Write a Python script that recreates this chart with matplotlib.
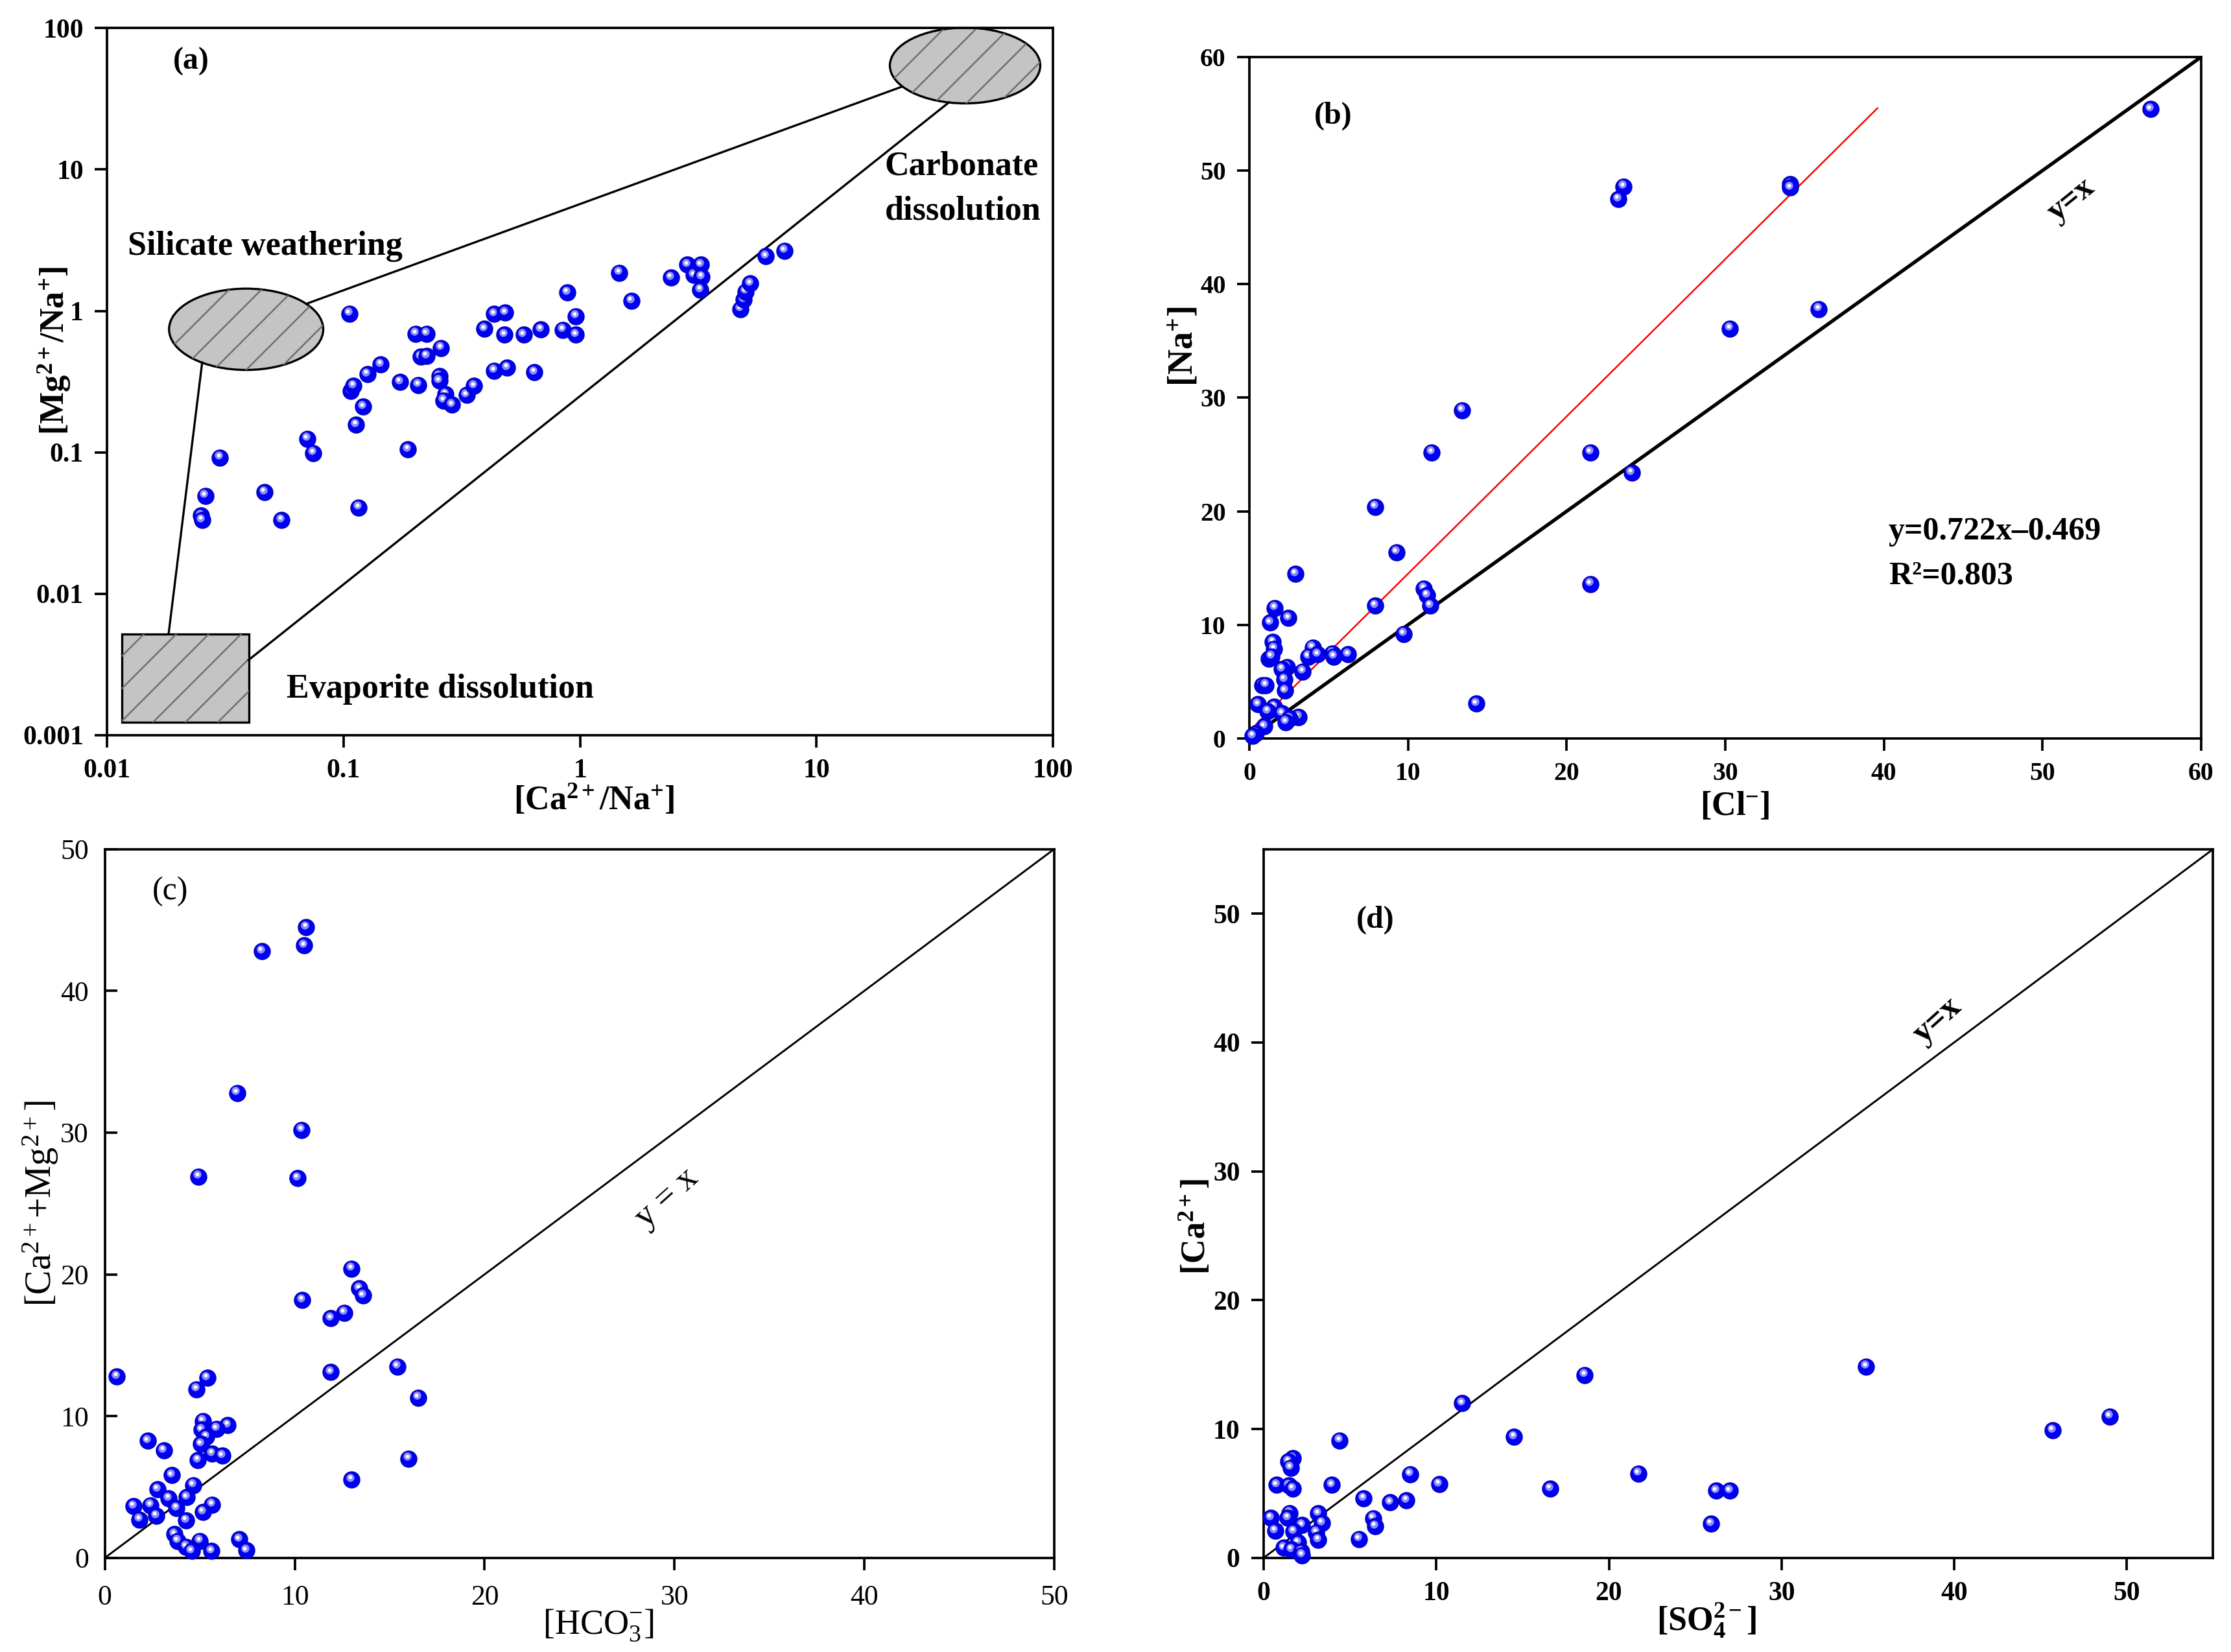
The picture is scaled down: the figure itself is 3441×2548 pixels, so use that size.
import numpy as np
import matplotlib
matplotlib.use("Agg")
import matplotlib.pyplot as plt
from matplotlib.patches import Ellipse, Rectangle
from matplotlib.transforms import offset_copy
from matplotlib.ticker import FixedLocator, FixedFormatter, NullLocator, MultipleLocator

plt.rcParams['font.family'] = ['Liberation Serif', 'DejaVu Serif']
plt.rcParams['mathtext.fontset'] = 'custom'
plt.rcParams['mathtext.rm'] = 'Liberation Serif'
plt.rcParams['mathtext.bf'] = 'Liberation Serif:bold'
plt.rcParams['mathtext.it'] = 'Liberation Serif:italic'
plt.rcParams['hatch.linewidth'] = 0.6

# ---------------- data ----------------
# (a) Ca/Na vs Mg/Na (log-log)
a_ca_na = [0.0260, 0.0250, 0.0252, 0.030, 0.0462, 0.0546, 0.0701, 0.0746, 0.1058, 0.107,
           0.110, 0.113, 0.116, 0.121, 0.126, 0.1436, 0.173, 0.187, 0.2018, 0.224,
           0.207, 0.212, 0.224, 0.258, 0.254, 0.254, 0.270, 0.265, 0.288, 0.331,
           0.357, 0.394, 0.433, 0.482, 0.479, 0.433, 0.492, 0.577, 0.641, 0.682,
           0.846, 0.883, 0.959, 0.959, 1.466, 1.65, 2.42, 2.84, 3.03, 3.24,
           3.27, 3.23, 4.78, 4.92, 5.00, 5.25, 6.10, 7.31]
a_mg_na = [0.0493, 0.0356, 0.0332, 0.0918, 0.0524, 0.0332, 0.125, 0.099, 0.957, 0.272,
           0.295, 0.157, 0.0408, 0.210, 0.358, 0.419, 0.315, 0.105, 0.690, 0.690,
           0.300, 0.476, 0.480, 0.547, 0.346, 0.320, 0.258, 0.233, 0.217, 0.254,
           0.294, 0.746, 0.950, 0.970, 0.678, 0.378, 0.397, 0.678, 0.368, 0.740,
           0.735, 1.35, 0.918, 0.678, 1.86, 1.18, 1.72, 2.12, 1.79, 2.12,
           1.74, 1.41, 1.03, 1.20, 1.37, 1.56, 2.43, 2.67]

# (b) Cl vs Na
b_cl = [56.8, 34.1, 34.1, 23.6, 23.25, 35.9, 30.3, 13.4, 11.5, 21.5,
        24.1, 7.93, 9.27, 2.9, 21.5, 11.0, 11.2, 11.4, 7.93, 1.6,
        2.46, 1.3, 9.72, 1.48, 1.57, 3.99, 3.72, 4.3, 5.24, 5.33,
        6.23, 1.21, 1.39, 2.37, 2.06, 3.36, 2.2, 2.24, 0.81, 1.03,
        0.54, 14.3, 1.57, 1.16, 2.06, 3.05, 3.1, 2.55, 2.3, 0.94,
        0.4, 0.22]
b_na = [55.4, 48.8, 48.5, 48.6, 47.5, 37.8, 36.1, 28.9, 25.2, 25.2,
        23.4, 20.4, 16.4, 14.5, 13.6, 13.2, 12.6, 11.7, 11.7, 11.5,
        10.6, 10.2, 9.2, 8.5, 7.9, 8.0, 7.2, 7.4, 7.5, 7.2,
        7.4, 7.0, 7.2, 6.3, 6.1, 5.9, 5.2, 4.2, 4.7, 4.7,
        3.0, 3.06, 2.8, 2.4, 2.2, 1.9, 1.9, 1.75, 1.45, 1.06,
        0.46, 0.23]
b_fit_slope = 0.722
b_fit_intercept = -0.469
b_fit_xmax = 39.6

# (c) HCO3 vs Ca+Mg
c_hco3 = [10.6, 10.5, 8.27, 6.96, 10.37, 4.94, 10.14, 13.0, 13.4, 13.6,
          10.4, 12.6, 11.9, 15.4, 11.9, 0.64, 5.39, 4.83, 16.5, 5.16,
          6.47, 5.88, 5.09, 5.35, 5.05, 2.25, 3.1, 5.65, 6.18, 4.9,
          16.0, 3.52, 13.0, 2.77, 4.64, 3.37, 4.3, 1.5, 2.4, 5.65,
          3.78, 5.16, 1.83, 2.7, 4.27, 3.67, 3.82, 5.0, 7.07, 4.27,
          4.57, 5.61, 7.45]
c_camg = [44.5, 43.2, 42.8, 32.8, 30.2, 26.9, 26.8, 20.4, 19.0, 18.5,
          18.2, 17.3, 16.9, 13.5, 13.1, 12.8, 12.7, 11.9, 11.3, 9.66,
          9.36, 9.1, 9.03, 8.54, 8.02, 8.25, 7.58, 7.36, 7.2, 6.9,
          7.0, 5.83, 5.53, 4.83, 5.13, 4.2, 4.27, 3.64, 3.71, 3.75,
          3.5, 3.23, 2.71, 2.97, 2.64, 1.67, 1.19, 1.19, 1.3, 0.78,
          0.48, 0.48, 0.52]

# (d) SO4 vs Ca
d_so4 = [34.9, 18.6, 11.5, 49.0, 45.7, 14.5, 4.4, 1.69, 1.44, 1.56,
         8.48, 21.7, 10.16, 3.95, 0.74, 1.48, 1.69, 16.6, 26.2, 27.0,
         5.8, 7.33, 8.27, 1.52, 3.17, 0.41, 1.4, 6.34, 3.37, 6.46,
         25.9, 2.22, 0.66, 1.73, 3.05, 5.51, 3.17, 1.98, 1.15, 1.6,
         2.18, 2.22]
d_ca = [14.85, 14.2, 12.0, 10.97, 9.9, 9.4, 9.12, 7.73, 7.49, 7.0,
        6.5, 6.55, 5.73, 5.65, 5.65, 5.6, 5.36, 5.36, 5.2, 5.2,
        4.62, 4.3, 4.46, 3.48, 3.44, 3.1, 3.1, 3.07, 2.7, 2.45,
        2.66, 2.54, 2.09, 2.05, 1.96, 1.47, 1.39, 1.19, 0.78, 0.65,
        0.49, 0.2]

# ---------------- figure ----------------
W, H, DPI = 3441, 2548, 300
fig = plt.figure(figsize=(W / DPI, H / DPI), dpi=DPI)

axA = fig.add_axes([0.048, 0.555, 0.424, 0.428])
axB = fig.add_axes([0.560, 0.553, 0.4266, 0.4125])
axC = fig.add_axes([0.047, 0.057, 0.4255, 0.429])
axD = fig.add_axes([0.5664, 0.057, 0.4256, 0.429])


def balls(ax, xs, ys):
    off1 = offset_copy(ax.transData, fig=fig, x=-0.5, y=0.8, units='points')
    off2 = offset_copy(ax.transData, fig=fig, x=-0.6, y=0.9, units='points')
    for i, (x, y) in enumerate(zip(xs, ys)):
        z = 3 + i * 0.003
        ax.scatter([x], [y], s=36, c='#0000f5', edgecolors='#0000b4',
                   linewidths=0.35, zorder=z, clip_on=False)
        ax.scatter([x], [y], s=9, c='#8c8cff', linewidths=0,
                   transform=off1, zorder=z + 0.001, clip_on=False)
        ax.scatter([x], [y], s=2.0, c='#ffffff', linewidths=0,
                   transform=off2, zorder=z + 0.002, clip_on=False)


def style(ax, size, bold, ydir='out', ypad=4.2, xpad=4.2):
    ax.tick_params(length=4.5, width=0.9, labelsize=size, top=False, right=False)
    ax.tick_params(axis='x', direction='out', pad=xpad)
    ax.tick_params(axis='y', direction=ydir, pad=ypad)
    for sp in ax.spines.values():
        sp.set_linewidth(0.9)
    for lab in ax.get_xticklabels() + ax.get_yticklabels():
        lab.set_fontweight('bold' if bold else 'normal')


def place_labels(ax, xl, yl):
    ax.xaxis.set_label_coords(*xl)
    ax.xaxis.label.set_va('center')
    ax.yaxis.set_label_coords(*yl)
    ax.yaxis.label.set_va('center')


# ---- (a) ----
ax = axA
ax.set_xscale('log')
ax.set_yscale('log')
ax.set_xlim(0.01, 100)
ax.set_ylim(0.001, 100)
xt = [0.01, 0.1, 1, 10, 100]
yt = [0.001, 0.01, 0.1, 1, 10, 100]
ax.xaxis.set_major_locator(FixedLocator(xt))
ax.xaxis.set_major_formatter(FixedFormatter(['0.01', '0.1', '1', '10', '100']))
ax.yaxis.set_major_locator(FixedLocator(yt))
ax.yaxis.set_major_formatter(FixedFormatter(['0.001', '0.01', '0.1', '1', '10', '100']))
ax.xaxis.set_minor_locator(NullLocator())
ax.yaxis.set_minor_locator(NullLocator())
style(ax, 10, True)

fc = '#c4c4c4'
for shape in [Ellipse((0.907, 0.947), 0.159, 0.107),
              Ellipse((0.147, 0.574), 0.163, 0.115),
              Rectangle((0.0159, 0.018), 0.1338, 0.125)]:
    shape.set_transform(ax.transAxes)
    shape.set_facecolor(fc)
    shape.set_edgecolor('black')
    shape.set_linewidth(0.8)
    shape.set_zorder(2)
    ax.add_patch(shape)
for shape in [Ellipse((0.907, 0.947), 0.159, 0.107),
              Ellipse((0.147, 0.574), 0.163, 0.115),
              Rectangle((0.0159, 0.018), 0.1338, 0.125)]:
    shape.set_transform(ax.transAxes)
    shape.set_facecolor('none')
    shape.set_edgecolor('#707070')
    shape.set_linewidth(0)
    shape.set_hatch('//')
    shape.set_zorder(2.1)
    ax.add_patch(shape)

ax.plot([0.2116, 0.840], [0.6105, 0.917], transform=ax.transAxes, color='k', lw=0.8, zorder=2.5)
ax.plot([0.1005, 0.065], [0.527, 0.143], transform=ax.transAxes, color='k', lw=0.8, zorder=2.5)
ax.plot([0.1497, 0.890], [0.1064, 0.895], transform=ax.transAxes, color='k', lw=0.8, zorder=2.5)

balls(ax, a_ca_na, a_mg_na)
ax.text(0.089, 0.953, '(a)', transform=ax.transAxes, fontsize=11.5, fontweight='bold',
        ha='center', va='center')
ax.text(0.022, 0.691, 'Silicate weathering', transform=ax.transAxes, fontsize=12.5,
        fontweight='bold', ha='left', va='center')
ax.text(0.822, 0.773, 'Carbonate\ndissolution', transform=ax.transAxes, fontsize=12.5,
        fontweight='bold', ha='left', va='center', linespacing=1.55)
ax.text(0.190, 0.065, 'Evaporite dissolution', transform=ax.transAxes, fontsize=12.5,
        fontweight='bold', ha='left', va='center')
ax.set_xlabel(r'$\mathbf{[Ca^{2+}/Na^{+}]}$', fontsize=12.5)
ax.set_ylabel(r'$\mathbf{[Mg^{2+}/Na^{+}]}$', fontsize=12.5)
place_labels(ax, (0.515, -0.092), (-0.056, 0.544))

# ---- (b) ----
ax = axB
ax.set_xlim(0, 60)
ax.set_ylim(0, 60)
ax.xaxis.set_major_locator(MultipleLocator(10))
ax.yaxis.set_major_locator(MultipleLocator(10))
style(ax, 9.5, True)
lim = np.array([0, 60])
ax.plot(lim, lim, color='black', lw=1.3, zorder=2)
xf = np.array([0, b_fit_xmax])
ax.plot(xf, (xf - b_fit_intercept) / b_fit_slope, color='red', lw=0.6, zorder=2)
balls(ax, b_cl, b_na)
ax.text(5.3, 54.8, '(b)', fontsize=11.5, fontweight='bold', ha='center', va='center')
ax.text(51.8, 47.4, 'y=x', fontsize=12, fontweight='bold', ha='center', va='center',
        rotation=39)
ax.text(40.3, 18.2, 'y=0.722x\u20130.469', fontsize=12, fontweight='bold', ha='left',
        va='center')
ax.text(40.3, 14.3, 'R\u00b2=0.803', fontsize=12, fontweight='bold', ha='left', va='center')
ax.set_xlabel(r'$\mathbf{[Cl^{-}]}$', fontsize=12.5)
ax.set_ylabel(r'$\mathbf{[Na^{+}]}$', fontsize=13)
place_labels(ax, (0.51, -0.10), (-0.069, 0.575))

# ---- (c) ----
ax = axC
ax.set_xlim(0, 50)
ax.set_ylim(0, 50)
ax.xaxis.set_major_locator(MultipleLocator(10))
ax.yaxis.set_major_locator(MultipleLocator(10))
style(ax, 10.5, False, ydir='in', ypad=6.0, xpad=5.5)
lim = np.array([0, 50])
ax.plot(lim, lim, color='black', lw=0.7, zorder=2)
balls(ax, c_hco3, c_camg)
ax.text(3.44, 47.0, '(c)', fontsize=12, ha='center', va='center')
ax.text(29.6, 25.4, 'y = x', fontsize=13, ha='center', va='center', rotation=42)
ax.set_xlabel(r'$\mathrm{[HCO_3^{-}]}$', fontsize=13)
ax.set_ylabel(r'$\mathrm{[Ca^{2+}{+}Mg^{2+}]}$', fontsize=13.5)
place_labels(ax, (0.52, -0.095), (-0.068, 0.5))

# ---- (d) ----
ax = axD
ax.set_xlim(0, 55)
ax.set_ylim(0, 55)
ax.xaxis.set_major_locator(MultipleLocator(10))
ax.yaxis.set_major_locator(MultipleLocator(10))
style(ax, 10, True)
lim = np.array([0, 55])
ax.plot(lim, lim, color='black', lw=0.7, zorder=2)
balls(ax, d_so4, d_ca)
ax.text(6.46, 49.5, '(d)', fontsize=11.5, fontweight='bold', ha='center', va='center')
ax.text(39.0, 41.7, 'y=x', fontsize=12.5, fontweight='bold', ha='center', va='center',
        rotation=42)
ax.set_xlabel(r'$\mathbf{[SO_4^{2-}]}$', fontsize=12.5)
ax.set_ylabel(r'$\mathbf{[Ca^{2+}]}$', fontsize=12.5)
place_labels(ax, (0.466, -0.088), (-0.072, 0.467))

fig.savefig('out.png', dpi=DPI)
